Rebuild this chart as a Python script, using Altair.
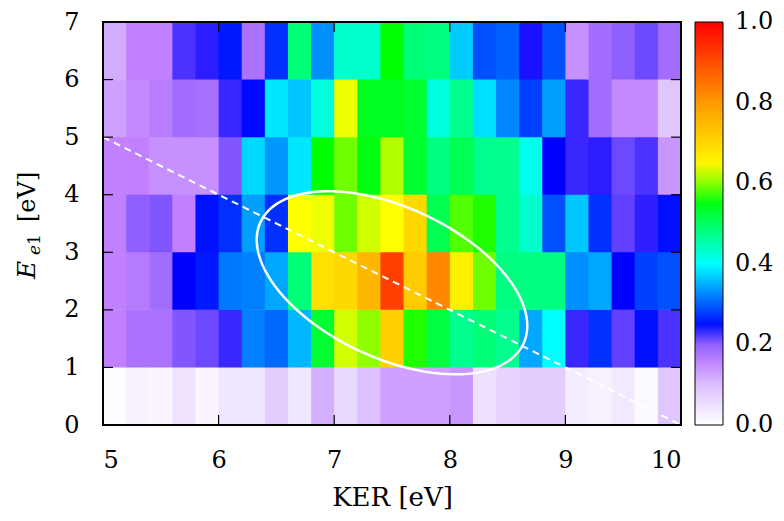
import altair as alt
import numpy as np
import pandas as pd

# ---- data -------------------------------------------------------------
ker_edges = [5.0, 5.2, 5.4, 5.6, 5.8, 6.0, 6.2, 6.4, 6.6, 6.8, 7.0, 7.2, 7.4,
             7.6, 7.8, 8.0, 8.2, 8.4, 8.6, 8.8, 9.0, 9.2, 9.4, 9.6, 9.8, 10.0]
e_edges = [0, 1, 2, 3, 4, 5, 6, 7]

z_e0 = [0.005, 0.02, 0.015, 0.045, 0.015, 0.04, 0.04, 0.08, 0.04, 0.115, 0.06, 0.10, 0.13,
        0.13, 0.13, 0.14, 0.05, 0.07, 0.08, 0.08, 0.03, 0.02, 0.035, 0.01, 0.09]
z_e1 = [0.16, 0.178, 0.178, 0.204, 0.21, 0.224, 0.32, 0.305, 0.355, 0.53, 0.621, 0.602, 0.711,
        0.569, 0.52, 0.47, 0.485, 0.47, 0.345, 0.40, 0.224, 0.27, 0.213, 0.25, 0.219]
z_e2 = [0.16, 0.168, 0.185, 0.24, 0.255, 0.315, 0.32, 0.345, 0.485, 0.685, 0.698, 0.753, 0.916,
        0.718, 0.822, 0.659, 0.593, 0.48, 0.48, 0.48, 0.33, 0.345, 0.24, 0.28, 0.29]
z_e3 = [0.16, 0.20, 0.204, 0.16, 0.25, 0.27, 0.34, 0.27, 0.635, 0.63, 0.593, 0.621, 0.635,
        0.698, 0.51, 0.584, 0.569, 0.47, 0.432, 0.29, 0.365, 0.27, 0.213, 0.227, 0.25]
z_e4 = [0.16, 0.16, 0.145, 0.145, 0.145, 0.204, 0.375, 0.335, 0.385, 0.56, 0.593, 0.55, 0.612,
        0.53, 0.48, 0.51, 0.47, 0.47, 0.411, 0.24, 0.224, 0.228, 0.21, 0.219, 0.14]
z_e5 = [0.13, 0.152, 0.165, 0.185, 0.18, 0.224, 0.245, 0.385, 0.365, 0.421, 0.63, 0.54, 0.54,
        0.53, 0.421, 0.47, 0.38, 0.325, 0.28, 0.34, 0.224, 0.185, 0.152, 0.152, 0.09]
z_e6 = [0.12, 0.16, 0.16, 0.219, 0.228, 0.255, 0.178, 0.27, 0.485, 0.33, 0.432, 0.432, 0.56,
        0.485, 0.48, 0.368, 0.29, 0.30, 0.233, 0.29, 0.145, 0.185, 0.20, 0.21, 0.185]
z_rows = [z_e0, z_e1, z_e2, z_e3, z_e4, z_e5, z_e6]

# dashed line E_e1 = 10 - KER
diag_ker = [5.0, 10.0]
diag_e = [5.0, 0.0]

# ellipse parameters (centre, half extents, correlation)
ell_cx, ell_cy = 7.5, 2.47
ell_sx, ell_sy = 1.17, 1.59
ell_rho = -0.47

x_tick_vals = [5, 6, 7, 8, 9, 10]
y_tick_vals = [0, 1, 2, 3, 4, 5, 6, 7]
cb_tick_vals = [0.2, 0.4, 0.6, 0.8]
cb_label_vals = [0.0, 0.2, 0.4, 0.6, 0.8, 1.0]
cb_label_txt = ["0.0", "0.2", "0.4", "0.6", "0.8", "1.0"]

pal_domain = [0.0, 0.1, 0.16, 0.2, 0.24, 0.4, 0.56, 0.635, 0.8, 1.0]
pal_range = ["#ffffff", "#dcc0ff", "#c080ff", "#9060ff", "#0000ff", "#00ffff",
             "#00ff00", "#ffff00", "#ff9900", "#ff0000"]

# ---- layout -------------------------------------------------------------
W, H = 578, 403
FONT = "DejaVu Serif"
LFS = 24   # tick label size
TFS = 26   # title size
TL = 10    # inward tick length
YMAX = 7.0  # E axis top, used to place colour-bar ticks/labels

rows = []
for r in range(len(z_rows)):
    for c in range(len(ker_edges) - 1):
        rows.append({"x": ker_edges[c], "x2": ker_edges[c + 1],
                     "y": e_edges[r], "y2": e_edges[r + 1], "v": z_rows[r][c]})
df = pd.DataFrame(rows)

xs = alt.Scale(domain=[5, 10], nice=False, zero=False)
ys = alt.Scale(domain=[0, 7], nice=False, zero=False)
cscale = alt.Scale(domain=pal_domain, range=pal_range, interpolate="rgb")

heat = alt.Chart(df).mark_rect(x2Offset=0.6, y2Offset=-0.6).encode(
    x=alt.X("x:Q", scale=xs, title="KER [eV]",
            axis=alt.Axis(values=x_tick_vals, format="d", labelPadding=23,
                          titlePadding=12)),
    x2="x2:Q",
    y=alt.Y("y:Q", scale=ys, title=None,
            axis=alt.Axis(values=y_tick_vals, format="d", labelPadding=24)),
    y2="y2:Q",
    color=alt.Color("v:Q", scale=cscale,
                    legend=alt.Legend(title=None, values=cb_label_vals,
                                      gradientLength=H, gradientThickness=28,
                                      gradientStrokeColor="black", gradientStrokeWidth=1,
                                      labelExpr="''", labelFontSize=1,
                                      labelOverlap=False, offset=14, padding=0)),
)

diag = alt.Chart(pd.DataFrame({"x": diag_ker, "y": diag_e})).mark_line(
    color="white", strokeWidth=2, strokeDash=[7, 5]).encode(x="x:Q", y="y:Q")

t = np.linspace(0, 2 * np.pi, 241)
delta = np.arccos(ell_rho)
ell_df = pd.DataFrame({"x": ell_cx + ell_sx * np.cos(t),
                       "y": ell_cy + ell_sy * np.cos(t + delta),
                       "o": np.arange(len(t))})
ellipse = alt.Chart(ell_df).mark_line(color="white", strokeWidth=2.5).encode(
    x="x:Q", y="y:Q", order="o:Q")

xt = pd.DataFrame({"x": x_tick_vals})
yt = pd.DataFrame({"y": y_tick_vals})
tick_b = alt.Chart(xt).mark_rule(color="black", strokeWidth=1.2).encode(
    x="x:Q", y=alt.value(H), y2=alt.value(H - TL))
tick_t = alt.Chart(xt).mark_rule(color="black", strokeWidth=1.2).encode(
    x="x:Q", y=alt.value(0), y2=alt.value(TL))
tick_l = alt.Chart(yt).mark_rule(color="black", strokeWidth=1.2).encode(
    y="y:Q", x=alt.value(0), x2=alt.value(TL))
tick_r = alt.Chart(yt).mark_rule(color="black", strokeWidth=1.2).encode(
    y="y:Q", x=alt.value(W - TL), x2=alt.value(W))

frame = alt.Chart(pd.DataFrame({"a": [0]})).mark_rect(
    filled=False, stroke="black", strokeWidth=2).encode(
    x=alt.value(0), x2=alt.value(W), y=alt.value(0), y2=alt.value(H))

cb = pd.DataFrame({"y": [YMAX * v for v in cb_tick_vals]})
cb_l = alt.Chart(cb).mark_rule(color="#222222", strokeWidth=1.2).encode(
    y="y:Q", x=alt.value(W + 14), x2=alt.value(W + 14 + 7))
cb_r = alt.Chart(cb).mark_rule(color="#222222", strokeWidth=1.2).encode(
    y="y:Q", x=alt.value(W + 14 + 28 - 7), x2=alt.value(W + 14 + 28))

cbl = pd.DataFrame({"y": [YMAX * v for v in cb_label_vals], "s": cb_label_txt})
cb_txt = alt.Chart(cbl).mark_text(
    align="left", baseline="middle", font=FONT, fontSize=LFS, color="black").encode(
    y="y:Q", text="s:N", x=alt.value(W + 14 + 28 + 12))

def ttl(s, size, italic, xr, yr):
    return alt.Chart(pd.DataFrame({"s": [s]})).mark_text(
        angle=270, align="left", baseline="alphabetic", font=FONT, fontSize=size,
        fontStyle="italic" if italic else "normal", color="black").encode(
        text="s:N", x=alt.value(xr), y=alt.value(yr))

ytitle = (ttl("E", 25, True, -68, 257) + ttl("e", 17, True, -63, 233)
          + ttl("1", 17, False, -63, 223) + ttl("[eV]", 24, False, -68, 200))

chart = alt.layer(heat, diag, ellipse, frame, tick_b, tick_t, tick_l, tick_r,
                  cb_l, cb_r, cb_txt, ytitle).properties(
    width=W, height=H,
    autosize=alt.AutoSizeParams(type="none"),
    padding={"left": 95, "top": 14, "right": 95, "bottom": 88},
).configure_view(stroke=None).configure_axis(
    grid=False, ticks=False, domain=False,
    labelFont=FONT, labelFontSize=LFS, labelColor="black",
    titleFont=FONT, titleFontSize=TFS, titleFontWeight="normal", titleColor="black",
)

chart.save("out.html", embed_options={"renderer": "svg", "actions": False})
